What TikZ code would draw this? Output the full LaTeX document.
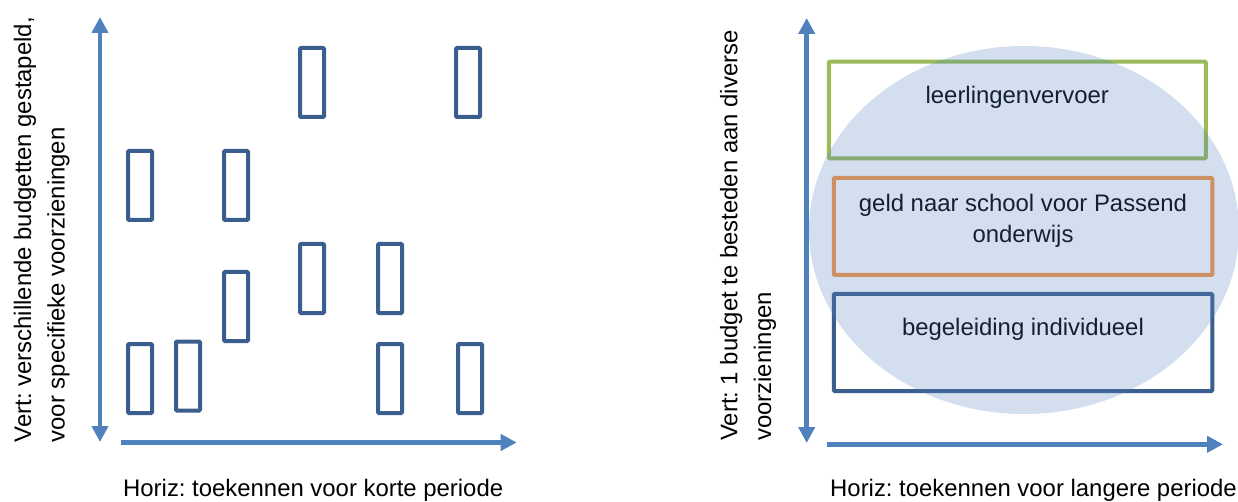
\documentclass[tikz,border=0pt]{standalone}
\usepackage{fontspec}
\setmainfont{Liberation Sans}
\usetikzlibrary{arrows.meta}
\definecolor{axisblue}{RGB}{79,129,189}
\definecolor{boxblue}{RGB}{58,95,143}
\definecolor{boxgreen}{RGB}{155,187,89}
\definecolor{boxorange}{RGB}{247,150,70}
\tikzset{
  axis/.style={draw=axisblue, line width=4.8pt, -{Triangle[length=16pt,width=16pt]}},
  axisboth/.style={draw=axisblue, line width=4.8pt, {Triangle[length=16pt,width=16pt]}-{Triangle[length=16pt,width=16pt]}},
  bar/.style={draw=boxblue, line width=4pt, rectangle, rounded corners=1pt, inner sep=0pt, minimum width=24pt, minimum height=69pt},
  budget/.style={line width=4pt, rectangle, rounded corners=1pt, inner sep=0pt, minimum width=378.5pt, minimum height=97pt},
  txt/.style={font=\fontsize{23.9pt}{28pt}\selectfont, text=black, inner sep=0pt},
}
\begin{document}
\frenchspacing
\begin{tikzpicture}[x=1pt,y=-1pt]
\useasboundingbox (0,0) rectangle (1238,502);
% ---------- left diagram ----------
\coordinate (lvt) at (100,17);
\coordinate (lvb) at (100,442);
\coordinate (lhs) at (120.7,442.5);
\coordinate (lhe) at (516.7,442.5);
\draw[axisboth] (lvb) -- (lvt);
\draw[axis] (lhs) -- (lhe);
\node[bar] (r1) at (312,82.5) {};
\node[bar] (r2) at (468,82.5) {};
\node[bar] (r3) at (140,185.5) {};
\node[bar] (r4) at (236,185.5) {};
\node[bar] (r5) at (312,278.5) {};
\node[bar] (r6) at (390,278.5) {};
\node[bar] (r7) at (236,306.5) {};
\node[bar] (r8) at (140,378.5) {};
\node[bar] (r9) at (188,376) {};
\node[bar] (r10) at (390,378.5) {};
\node[bar] (r11) at (470,378.5) {};
\node[txt, rotate=90, anchor=base west] (lv1) at (31.2,442.5) {Vert: verschillende budgetten gestapeld,};
\node[txt, rotate=90, anchor=base west] (lv2) at (64.5,442.5) {voor specifieke voorzieningen};
\node[txt, anchor=base west] (lh) at (123,496) {Horiz: toekennen voor korte periode};
% ---------- right diagram ----------
\coordinate (rvt) at (806.7,18);
\coordinate (rvb) at (806.7,443);
\coordinate (rhs) at (826.7,444.3);
\coordinate (rhe) at (1223,444.3);
\draw[axisboth] (rvb) -- (rvt);
\draw[axis] (rhs) -- (rhe);
\node[budget, draw=boxgreen, minimum width=377pt, minimum height=96.6pt] (bg) at (1017.3,110) {};
\node[budget, draw=boxorange] (bo) at (1023,226.5) {};
\node[budget, draw=boxblue] (bb) at (1023,342.5) {};
\node[txt, anchor=base] (tg) at (1017.3,103.3) {leerlingenvervoer};
\node[txt, anchor=base] (to1) at (1023,211.7) {geld naar school voor Passend};
\node[txt, anchor=base] (to2) at (1023,242.5) {onderwijs};
\node[txt, anchor=base] (tb) at (1023,335) {begeleiding individueel};
\fill[axisblue, fill opacity=0.25] (1024,230) ellipse [x radius=215, y radius=184];
\node[txt, rotate=90, anchor=base west] (rv1) at (737.3,441) {Vert: 1 budget te besteden aan diverse};
\node[txt, rotate=90, anchor=base west] (rv2) at (771,441) {voorzieningen};
\node[txt, anchor=base west] (rh) at (830,496) {Horiz: toekennen voor langere periode};
\end{tikzpicture}
\end{document}
